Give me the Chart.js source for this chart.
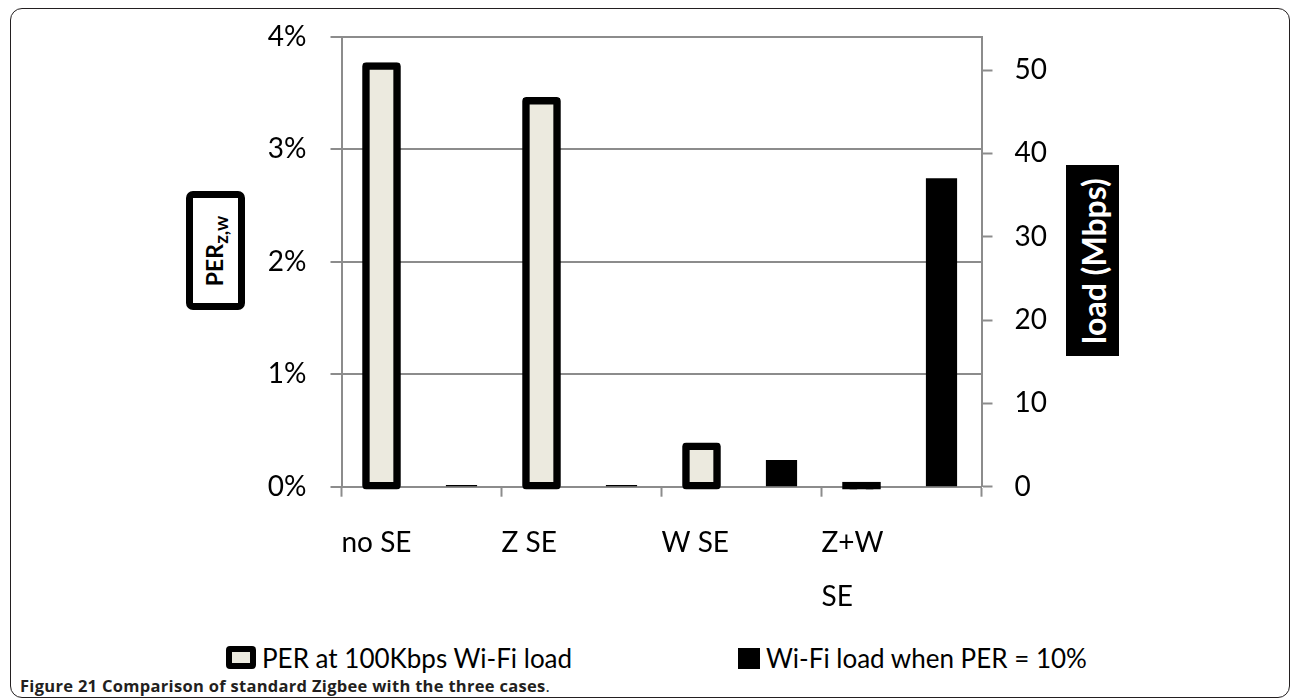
<!DOCTYPE html>
<html>
<head>
<meta charset="utf-8">
<script src="https://cdn.jsdelivr.net/npm/chart.js@4.4.1/dist/chart.umd.min.js"></script>
<style>
html, body { margin:0; padding:0; background:#fff; width:1290px; height:698px; overflow:hidden; font-family: Lato, sans-serif; }
#frame { position:absolute; left:9.5px; top:7.5px; width:1280px; height:690px; border:1.5px solid #231f20; border-radius:12px; box-sizing:border-box; }
#wrap { position:absolute; left:0; top:0; width:1290px; height:640px; }
#ltitle { position:absolute; left:186px; top:191px; width:59px; height:119px; border:7px solid #000; border-radius:7px; box-sizing:border-box; background:#fff; }
#ltitle span, #rtitle span { position:absolute; left:50%; top:50%; transform:translate(-50%,-50%) rotate(-90deg); white-space:nowrap; font-weight:bold; }
#ltitle span { font-size:23px; color:#000; }
#ltitle sub { font-size:19px; }
#rtitle { position:absolute; left:1066px; top:165px; width:53px; height:191px; background:#000; }
#rtitle span { font-size:32px; color:#fff; }
.lg-box { position:absolute; box-sizing:border-box; }
.lg-text { position:absolute; font-size:26px; line-height:32px; color:#000; white-space:nowrap; }
#caption { position:absolute; left:20px; top:676px; font-family:'Open Sans', sans-serif; font-size:16.5px; letter-spacing:0.3px; line-height:20px; color:#231f20; white-space:nowrap; }
</style>
</head>
<body>
<div id="frame"></div>
<div id="wrap"><canvas id="c" width="1290" height="640"></canvas></div>
<div id="ltitle"><span>PER<sub>z,w</sub></span></div>
<div id="rtitle"><span>load (Mbps)</span></div>
<div id="legend"></div>
<div id="caption"><b>Figure 21 Comparison of standard Zigbee with the three cases</b>.</div>
<script>
// ---- data ----
const categories = ['no SE', 'Z SE', 'W SE', ['Z+W', 'SE']];
const seriesNames = ['PER at 100Kbps Wi-Fi load', 'Wi-Fi load when PER = 10%'];
const perValues = [3.74, 3.43, 0.36, 0.01];      // %
const loadValues = [0.2, 0.2, 3.2, 37.0];        // Mbps
const perTickValues = [0, 1, 2, 3, 4];
const loadTickValues = [0, 10, 20, 30, 40, 50];
const perAxisMax = 4;
const loadAxisMax = 54;

// ---- styles ----
const BEIGE = '#ECEADF';
const GRAY = '#8C8C8C';
const FONT = 'Lato';

const chart = new Chart(document.getElementById('c'), {
  type: 'bar',
  data: {
    labels: categories,
    datasets: [
      {
        label: seriesNames[0],
        data: perValues,
        yAxisID: 'y',
        backgroundColor: c => (c.raw !== undefined && c.raw < 0.05) ? '#000' : BEIGE,
        borderColor: '#000',
        borderWidth: 7.5,
        borderSkipped: false,
        borderRadius: 4,
        inflateAmount: 3.75,
        barPercentage: 0.39,
        categoryPercentage: 1,
        clip: false
      },
      {
        label: seriesNames[1],
        data: loadValues,
        yAxisID: 'y2',
        backgroundColor: '#000',
        borderWidth: 0,
        inflateAmount: 0,
        barPercentage: 0.39,
        categoryPercentage: 1,
        clip: false
      }
    ]
  },
  options: {
    responsive: false,
    animation: false,
    devicePixelRatio: 1,
    layout: { padding: { top: 36.7, left: 0, right: 0, bottom: 0 } },
    plugins: { legend: { display: false }, tooltip: { enabled: false } },
    scales: {
      x: {
        type: 'category',
        offset: true,
        grid: { offset: true, drawOnChartArea: false, drawTicks: true, tickLength: 10, tickWidth: 2, tickColor: GRAY },
        border: { display: true, color: GRAY, width: 2 },
        ticks: {
          color: '#000',
          font: { family: FONT, size: 28, lineHeight: '54.5px' },
          align: 'start',
          labelOffset: -80,
          padding: 19,
          maxRotation: 0, minRotation: 0, autoSkip: false
        },
        afterFit: s => { s.height = 640 - 486.7; }
      },
      y: {
        position: 'left',
        min: 0, max: perAxisMax,
        afterBuildTicks: s => { s.ticks = perTickValues.map(v => ({ value: v })); },
        grid: { color: GRAY, lineWidth: 2, drawTicks: true, tickLength: 11, tickColor: GRAY, tickWidth: 2 },
        border: { display: true, color: GRAY, width: 2 },
        ticks: { color: '#000', font: { family: FONT, size: 28, lineHeight: 0.8 }, padding: 24, callback: v => v + '%' },
        afterFit: s => { s.width = 341.5; }
      },
      y2: {
        position: 'right',
        min: 0, max: loadAxisMax,
        afterBuildTicks: s => { s.ticks = loadTickValues.map(v => ({ value: v })); },
        grid: { drawOnChartArea: false, drawTicks: true, tickLength: 11, tickColor: GRAY, tickWidth: 2 },
        border: { display: true, color: GRAY, width: 2 },
        ticks: { color: '#000', font: { family: FONT, size: 28, lineHeight: 0.8 }, padding: 22, callback: v => String(v) },
        afterFit: s => { s.width = 1290 - 981.5; }
      }
    }
  }
});

// ---- HTML legend built from the chart's datasets ----
const legend = document.getElementById('legend');
const legendLayout = [
  { box: { left: 226, top: 646, width: 30, height: 23 }, textLeft: 262 },
  { box: { left: 738, top: 648, width: 22, height: 21 }, textLeft: 766 }
];
chart.data.datasets.forEach((ds, i) => {
  const L = legendLayout[i];
  const b = document.createElement('div');
  b.className = 'lg-box';
  Object.assign(b.style, { left: L.box.left + 'px', top: L.box.top + 'px', width: L.box.width + 'px', height: L.box.height + 'px' });
  if (i === 0) { b.style.background = BEIGE; b.style.border = '6px solid #000'; b.style.borderRadius = '4px'; }
  else { b.style.background = '#000'; }
  const t = document.createElement('div');
  t.className = 'lg-text';
  t.style.left = L.textLeft + 'px';
  t.style.top = '642px';
  t.textContent = ds.label;
  legend.appendChild(b);
  legend.appendChild(t);
});
</script>
</body>
</html>
